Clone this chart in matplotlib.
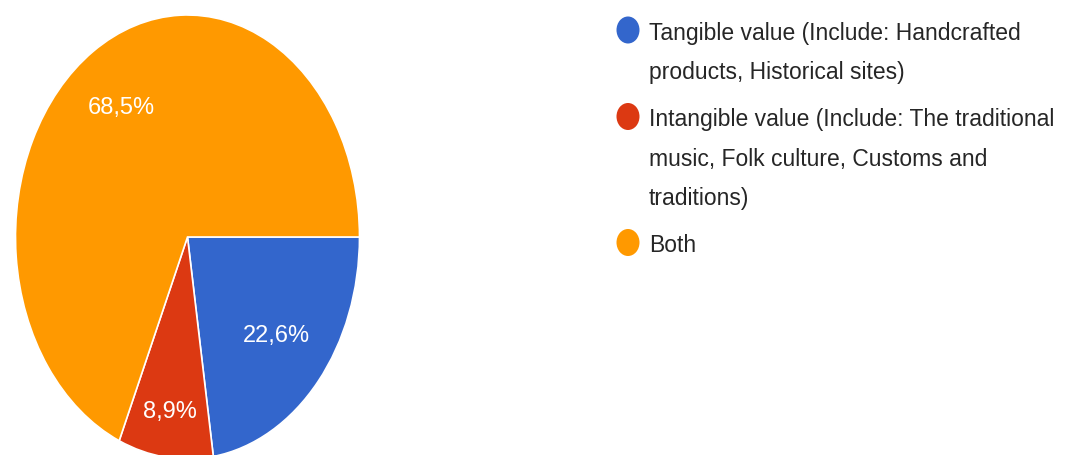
import matplotlib
matplotlib.use("Agg")
import matplotlib.pyplot as plt
import numpy as np
from matplotlib.patches import Ellipse

plt.rcParams['font.family'] = ['Liberation Sans', 'DejaVu Sans']

# Survey answers: share of respondents per category (percent)
categories = [
    "Tangible value (Include: Handcrafted\nproducts, Historical sites)",
    "Intangible value (Include: The traditional\nmusic, Folk culture, Customs and\ntraditions)",
    "Both",
]
shares = [22.6, 8.9, 68.5]
colors = ["#3366cc", "#dc3912", "#ff9900"]

W, H = 1066, 456
fig = plt.figure(figsize=(W / 100, H / 100), dpi=100)
fig.patch.set_facecolor("white")

# Pie axes (stretched vertically, as in the source layout)
cx, cy, rx, ry = 187.5, 238, 172, 222
ax = fig.add_axes([(cx - rx) / W, (H - cy - ry) / H, 2 * rx / W, 2 * ry / H])
wedges, texts, autotexts = ax.pie(
    shares,
    colors=colors,
    startangle=0,
    counterclock=False,
    autopct=lambda p: f"{p:.1f}%".replace(".", ","),
    pctdistance=0.7,
    wedgeprops=dict(edgecolor="white", linewidth=1.2),
    textprops=dict(color="white", fontsize=17),
)
ax.set_aspect("auto")
ax.set_xlim(-1, 1)
ax.set_ylim(-1, 1)
ax.axis("off")

# Per-slice label distance from the centre
label_dist = [0.68, 0.79, 0.70]
for w, t, d in zip(wedges, autotexts, label_dist):
    mid = np.deg2rad((w.theta1 + w.theta2) / 2)
    t.set_position((d * np.cos(mid), d * np.sin(mid)))
    t.set_ha("center")
    t.set_va("center")

# Legend drawn in pixel coordinates
lg = fig.add_axes([0, 0, 1, 1])
lg.set_xlim(0, W)
lg.set_ylim(H, 0)
lg.axis("off")

marker_x, text_x = 628, 649
line_step, item_gap = 39.5, 47
baseline = 40
for label, col in zip(categories, colors):
    lines = label.split("\n")
    lg.add_patch(Ellipse((marker_x, baseline - 9), 23, 27, color=col, lw=0))
    for i, ln in enumerate(lines):
        lg.text(text_x, baseline + i * line_step, ln, fontsize=16.5,
                color="#262626", ha="left", va="baseline")
    baseline += (len(lines) - 1) * line_step + item_gap

fig.savefig("out.png", dpi=100, facecolor="white")
